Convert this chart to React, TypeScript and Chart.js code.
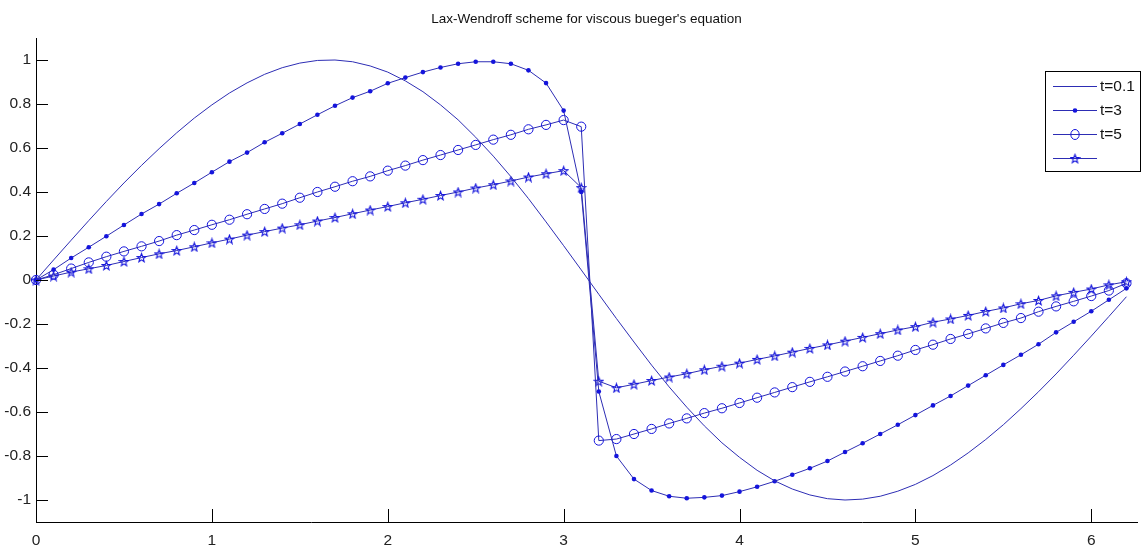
import React, { useEffect, useRef } from 'react';
import { Chart, registerables } from 'chart.js';

Chart.register(...registerables);

const titleText = "Lax-Wendroff scheme for viscous bueger's equation";

const xValues = [
  0, 0.1, 0.2, 0.3, 0.4, 0.5, 0.6, 0.7, 0.8, 0.9,
  1.0, 1.1, 1.2, 1.3, 1.4, 1.5, 1.6, 1.7, 1.8, 1.9,
  2.0, 2.1, 2.2, 2.3, 2.4, 2.5, 2.6, 2.7, 2.8, 2.9,
  3.0, 3.1, 3.2, 3.3, 3.4, 3.5, 3.6, 3.7, 3.8, 3.9,
  4.0, 4.1, 4.2, 4.3, 4.4, 4.5, 4.6, 4.7, 4.8, 4.9,
  5.0, 5.1, 5.2, 5.3, 5.4, 5.5, 5.6, 5.7, 5.8, 5.9,
  6.0, 6.1, 6.2,
];

const seriesT01 = [
  0, 0.091, 0.181, 0.270, 0.357, 0.441, 0.521, 0.597, 0.669, 0.736,
  0.796, 0.850, 0.896, 0.935, 0.965, 0.986, 0.998, 1.000, 0.992, 0.973,
  0.945, 0.905, 0.856, 0.796, 0.728, 0.649, 0.563, 0.470, 0.370, 0.264,
  0.156, 0.046, -0.065, -0.175, -0.282, -0.387, -0.486, -0.578, -0.663, -0.740,
  -0.806, -0.865, -0.913, -0.950, -0.977, -0.994, -1.000, -0.996, -0.983, -0.960,
  -0.929, -0.889, -0.841, -0.786, -0.725, -0.658, -0.585, -0.508, -0.427, -0.342,
  -0.255, -0.166, -0.076,
];

const seriesT3 = [
  0, 0.047, 0.100, 0.149, 0.199, 0.250, 0.300, 0.345, 0.394, 0.441,
  0.490, 0.538, 0.579, 0.626, 0.667, 0.709, 0.751, 0.792, 0.829, 0.858,
  0.894, 0.920, 0.945, 0.966, 0.983, 0.992, 0.992, 0.983, 0.953, 0.895,
  0.770, 0.400, -0.507, -0.800, -0.905, -0.957, -0.983, -0.992, -0.988, -0.980,
  -0.962, -0.940, -0.915, -0.885, -0.856, -0.823, -0.782, -0.742, -0.700, -0.658,
  -0.614, -0.570, -0.527, -0.480, -0.433, -0.386, -0.340, -0.292, -0.238, -0.190,
  -0.142, -0.090, -0.038,
];

const seriesT5 = [
  0, 0.024, 0.052, 0.080, 0.106, 0.130, 0.153, 0.177, 0.204, 0.227,
  0.251, 0.274, 0.299, 0.323, 0.347, 0.374, 0.400, 0.424, 0.449, 0.471,
  0.497, 0.520, 0.545, 0.568, 0.591, 0.614, 0.638, 0.660, 0.685, 0.705,
  0.727, 0.697, -0.730, -0.723, -0.700, -0.677, -0.652, -0.629, -0.605, -0.583,
  -0.559, -0.535, -0.511, -0.487, -0.463, -0.440, -0.416, -0.392, -0.368, -0.344,
  -0.318, -0.294, -0.268, -0.245, -0.220, -0.195, -0.173, -0.144, -0.120, -0.097,
  -0.073, -0.048, -0.015,
];

const seriesStar = [
  0, 0.018, 0.036, 0.051, 0.066, 0.084, 0.102, 0.119, 0.134, 0.151,
  0.169, 0.186, 0.204, 0.220, 0.236, 0.251, 0.268, 0.284, 0.301, 0.318,
  0.334, 0.351, 0.367, 0.384, 0.400, 0.418, 0.433, 0.450, 0.468, 0.483,
  0.497, 0.420, -0.460, -0.490, -0.474, -0.457, -0.441, -0.426, -0.408, -0.392,
  -0.378, -0.361, -0.345, -0.328, -0.311, -0.295, -0.278, -0.261, -0.244, -0.227,
  -0.212, -0.192, -0.177, -0.161, -0.143, -0.127, -0.108, -0.093, -0.072, -0.056,
  -0.041, -0.022, -0.008,
];

const xTicks = [0, 1, 2, 3, 4, 5, 6];
const xTickLabels = ['0', '1', '2', '3', '4', '5', '6'];
const yTicks = [-1, -0.8, -0.6, -0.4, -0.2, 0, 0.2, 0.4, 0.6, 0.8, 1];
const yTickLabels = ['-1', '-0.8', '-0.6', '-0.4', '-0.2', '0', '0.2', '0.4', '0.6', '0.8', '1'];
const legendLabels = ['t=0.1', 't=3', 't=5', ''];

const LINE_COLOR = 'rgb(45,45,180)';
const MARK_COLOR = 'rgb(20,20,220)';
const FONT = "'Liberation Sans', Arial, sans-serif";

function makeStar(size: number, color: string): HTMLCanvasElement {
  const c = document.createElement('canvas');
  c.width = size;
  c.height = size;
  const g = c.getContext('2d')!;
  const cx = size / 2;
  const cy = size / 2 + 0.5;
  const R = size / 2 - 1;
  const r = R * 0.42;
  g.beginPath();
  for (let i = 0; i < 10; i++) {
    const ang = -Math.PI / 2 + (i * Math.PI) / 5;
    const rad = i % 2 === 0 ? R : r;
    g.lineTo(cx + rad * Math.cos(ang), cy + rad * Math.sin(ang));
  }
  g.closePath();
  g.strokeStyle = color;
  g.lineWidth = 1.1;
  g.stroke();
  return c;
}

function toPoints(ys: number[]) {
  return xValues.map((x, i) => ({ x, y: ys[i] }));
}

export default function App() {
  const ref = useRef<HTMLCanvasElement>(null);

  useEffect(() => {
    const canvas = ref.current!;
    const starImg = makeStar(11, MARK_COLOR);

    const tickPlugin = {
      id: 'inwardTicks',
      afterDraw(chart: any) {
        const { ctx, chartArea, scales } = chart;
        ctx.save();
        ctx.strokeStyle = '#000';
        ctx.lineWidth = 1;
        scales.y.ticks.forEach((t: any) => {
          const py = Math.round(scales.y.getPixelForValue(t.value)) + 0.5;
          ctx.beginPath();
          ctx.moveTo(chartArea.left, py);
          ctx.lineTo(chartArea.left + 12, py);
          ctx.stroke();
        });
        scales.x.ticks.forEach((t: any) => {
          const px = Math.round(scales.x.getPixelForValue(t.value)) + 0.5;
          ctx.beginPath();
          ctx.moveTo(px, chartArea.bottom);
          ctx.lineTo(px, chartArea.bottom - 13);
          ctx.stroke();
        });

        // legend box
        const bx = 1045.5, by = 71.5, bw = 95, bh = 100;
        ctx.fillStyle = '#fff';
        ctx.fillRect(bx, by, bw, bh);
        ctx.strokeStyle = '#000';
        ctx.strokeRect(bx, by, bw, bh);
        const rowsY = [86, 110, 134, 158];
        ctx.font = `15.5px ${FONT}`;
        ctx.textBaseline = 'middle';
        ctx.textAlign = 'left';
        legendLabels.forEach((lab, i) => {
          const y = rowsY[i] + 0.5;
          ctx.strokeStyle = LINE_COLOR;
          ctx.lineWidth = 1;
          ctx.beginPath();
          ctx.moveTo(1053, y);
          ctx.lineTo(1097, y);
          ctx.stroke();
          const mx = 1075;
          if (i === 1) {
            ctx.fillStyle = MARK_COLOR;
            ctx.beginPath();
            ctx.arc(mx, y, 2.3, 0, Math.PI * 2);
            ctx.fill();
          } else if (i === 2) {
            ctx.strokeStyle = MARK_COLOR;
            ctx.beginPath();
            ctx.ellipse(mx, y, 4.2, 5, 0, 0, Math.PI * 2);
            ctx.stroke();
          } else if (i === 3) {
            ctx.drawImage(starImg, mx - 5.5, y - 5.5);
          }
          ctx.fillStyle = '#111';
          ctx.fillText(lab, 1100, y);
        });
        ctx.restore();
      },
    };

    const chart = new Chart(canvas, {
      type: 'line',
      data: {
        datasets: [
          {
            label: legendLabels[0],
            data: toPoints(seriesT01),
            borderColor: LINE_COLOR,
            borderWidth: 1,
            pointRadius: 0,
            tension: 0,
            clip: false as any,
          },
          {
            label: legendLabels[1],
            data: toPoints(seriesT3),
            borderColor: LINE_COLOR,
            borderWidth: 1,
            pointRadius: 2.3,
            pointStyle: 'circle',
            pointBackgroundColor: MARK_COLOR,
            pointBorderColor: MARK_COLOR,
            pointBorderWidth: 0,
            tension: 0,
            clip: false as any,
          },
          {
            label: legendLabels[2],
            data: toPoints(seriesT5),
            borderColor: LINE_COLOR,
            borderWidth: 1,
            pointRadius: 4.6,
            pointStyle: 'circle',
            pointBackgroundColor: 'rgba(0,0,0,0)',
            pointBorderColor: MARK_COLOR,
            pointBorderWidth: 1,
            tension: 0,
            clip: false as any,
          },
          {
            label: legendLabels[3],
            data: toPoints(seriesStar),
            borderColor: LINE_COLOR,
            borderWidth: 1,
            pointStyle: starImg as any,
            pointRadius: 5,
            tension: 0,
            clip: false as any,
          },
        ],
      },
      options: {
        responsive: false,
        animation: false,
        devicePixelRatio: 1,
        layout: { padding: 0 },
        plugins: {
          legend: { display: false },
          tooltip: { enabled: false },
          title: {
            display: true,
            text: titleText,
            fullSize: false,
            color: '#111',
            font: { family: FONT, size: 13.5, weight: 'normal', lineHeight: 1.2 },
            padding: { top: 11, bottom: 10.8 },
          },
        },
        scales: {
          x: {
            type: 'linear',
            min: 0,
            max: 6.26,
            afterBuildTicks: (s: any) => {
              s.ticks = xTicks.map((v) => ({ value: v }));
            },
            afterFit: (s: any) => {
              s.height = 27;
            },
            grid: { display: false, drawTicks: false },
            border: { display: true, color: '#000', width: 1 },
            ticks: {
              color: '#222',
              padding: 9,
              maxRotation: 0,
              autoSkip: false,
              font: { family: FONT, size: 15.5 },
              callback: (v: any) => {
                const i = xTicks.indexOf(Number(v));
                return i >= 0 ? xTickLabels[i] : '';
              },
            },
          },
          y: {
            type: 'linear',
            min: -1.1,
            max: 1.1,
            afterBuildTicks: (s: any) => {
              s.ticks = yTicks.map((v) => ({ value: v }));
            },
            afterFit: (s: any) => {
              s.width = 36;
            },
            grid: { display: false, drawTicks: false },
            border: { display: true, color: '#000', width: 1 },
            ticks: {
              color: '#222',
              padding: 5,
              autoSkip: false,
              font: { family: FONT, size: 15.5 },
              callback: (v: any) => {
                const i = yTicks.indexOf(Number(v));
                return i >= 0 ? yTickLabels[i] : '';
              },
            },
          },
        },
      },
      plugins: [tickPlugin],
    });

    return () => chart.destroy();
  }, []);

  return (
    <div style={{ position: 'absolute', left: 0, top: 0, width: 1143, height: 549, background: '#fff' }}>
      <canvas ref={ref} width={1143} height={549} style={{ display: 'block' }} />
    </div>
  );
}
